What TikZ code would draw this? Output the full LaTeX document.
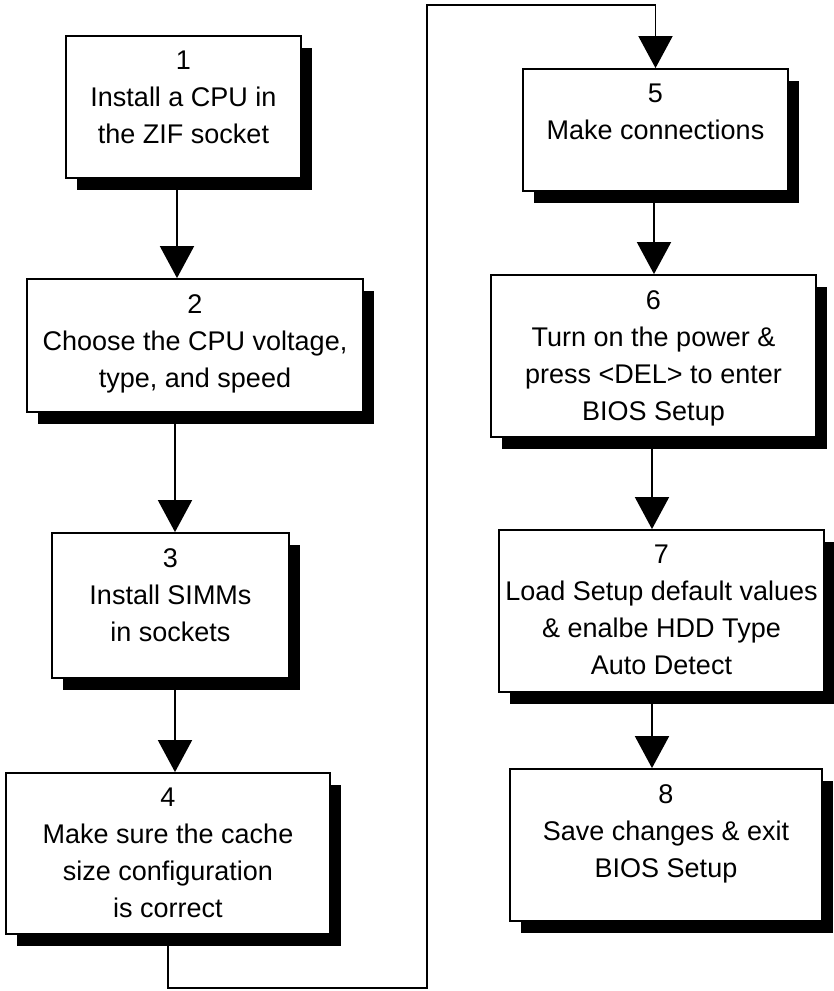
\documentclass[tikz,border=0pt]{standalone}
\usepackage{fontspec}
\setmainfont{Liberation Sans}
\usetikzlibrary{arrows.meta,shadows}
\begin{document}
\begin{tikzpicture}[x=1pt,y=-1pt,
  stepbox/.style={draw=black,line width=1.8pt,fill=white,inner sep=0pt,
    drop shadow={shadow xshift=11pt,shadow yshift=-12pt,fill=black,opacity=1}},
  steptext/.style={anchor=north,inner sep=0pt,align=center,
    font=\fontsize{27}{37}\selectfont},
  flow/.style={line width=1.8pt,-{Triangle[width=34pt,length=32pt]}},
  link/.style={line width=1.8pt}]
\useasboundingbox (0,0) rectangle (834,991);
% boxes: centre (x,y), width, height
\node[stepbox,minimum width=235pt,minimum height=142pt] (b1) at (183.5,107) {};
\node[stepbox,minimum width=336pt,minimum height=133pt] (b2) at (195,345.5) {};
\node[stepbox,minimum width=237pt,minimum height=145pt] (b3) at (170.5,605.5) {};
\node[stepbox,minimum width=324pt,minimum height=161pt] (b4) at (168,853.5) {};
\node[stepbox,minimum width=265pt,minimum height=122pt] (b5) at (655.5,130) {};
\node[stepbox,minimum width=325pt,minimum height=162pt] (b6) at (653.5,356) {};
\node[stepbox,minimum width=325pt,minimum height=162pt] (b7) at (661.5,611) {};
\node[stepbox,minimum width=312pt,minimum height=152pt] (b8) at (666,845) {};
% texts
\node[steptext] (t1) at ([yshift=-16pt]b1.north) {1\\Install a CPU in\\the ZIF socket};
\node[steptext] (t2) at ([yshift=-16pt]b2.north) {2\\Choose the CPU voltage,\\type, and speed};
\node[steptext] (t3) at ([yshift=-16pt]b3.north) {3\\Install SIMMs\\in sockets};
\node[steptext] (t4) at ([yshift=-16pt]b4.north) {4\\Make sure the cache\\size configuration\\is correct};
\node[steptext] (t5) at ([yshift=-16pt]b5.north) {5\\Make connections};
\node[steptext] (t6) at ([yshift=-16pt]b6.north) {6\\Turn on the power \&\\press <DEL> to enter\\BIOS Setup};
\node[steptext] (t7) at ([yshift=-16pt]b7.north) {7\\Load Setup default values\\\& enalbe HDD Type\\Auto Detect};
\node[steptext] (t8) at ([yshift=-16pt]b8.north) {8\\Save changes \& exit\\BIOS Setup};
% connector columns
\coordinate (xa) at (177,0);
\coordinate (xb) at (175,0);
\coordinate (xc) at (654,0);
\coordinate (xd) at (652,0);
\coordinate (low) at (427,988);
\coordinate (high) at (427,5);
% arrows
\draw[flow] (b1.south -| xa) -- (b2.north -| xa);
\draw[flow] (b2.south -| xb) -- (b3.north -| xb);
\draw[flow] (b3.south -| xb) -- (b4.north -| xb);
\draw[flow] (b4.south) |- (low) -- (high) -| (b5.north);
\draw[flow] (b5.south -| xc) -- (b6.north -| xc);
\draw[flow] (b6.south -| xd) -- (b7.north -| xd);
\draw[flow] (b7.south -| xd) -- (b8.north -| xd);
\end{tikzpicture}
\end{document}
